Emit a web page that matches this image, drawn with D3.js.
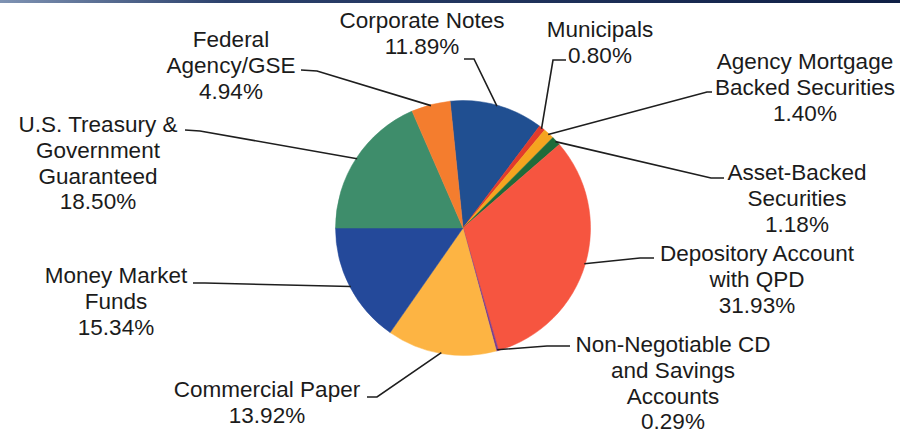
<!DOCTYPE html>
<html>
<head>
<meta charset="utf-8">
<script src="https://cdn.jsdelivr.net/npm/d3@7"></script>
<style>
  html, body { margin: 0; padding: 0; background: #ffffff; }
  svg { display: block; }
  text { font-family: "Liberation Sans", Arial, sans-serif; fill: #1b1b1b; }
</style>
</head>
<body>
<svg id="chart" width="900" height="436"></svg>
<script>
// ---- data ----
const categories = [
  "Corporate Notes",
  "Municipals",
  "Agency Mortgage Backed Securities",
  "Asset-Backed Securities",
  "Depository Account with QPD",
  "Non-Negotiable CD and Savings Accounts",
  "Commercial Paper",
  "Money Market Funds",
  "U.S. Treasury & Government Guaranteed",
  "Federal Agency/GSE"
];
const values = [11.89, 0.80, 1.40, 1.18, 31.93, 0.29, 13.92, 15.34, 18.50, 4.94];
const labelLines = [
  ["Corporate Notes"],
  ["Municipals"],
  ["Agency Mortgage", "Backed Securities"],
  ["Asset-Backed", "Securities"],
  ["Depository Account", "with QPD"],
  ["Non-Negotiable CD", "and Savings", "Accounts"],
  ["Commercial Paper"],
  ["Money Market", "Funds"],
  ["U.S. Treasury &", "Government", "Guaranteed"],
  ["Federal", "Agency/GSE"]
];

// ---- styles / layout ----
const colors = ["#204f91", "#e23b2b", "#f5a41f", "#1f6b3a", "#f65540",
                "#7a3f8f", "#fdb443", "#24499a", "#3e8d6b", "#f47d2e"];
const cx = 463, cy = 228, R = 127.5;
const startAngle = -5.8 * Math.PI / 180;
const fontSize = 22.5, lineH = 25.8;
// label text anchor (centre x, first baseline y) and leader elbow/end points
const labelLayout = [
  { x: 422, y: 28,  elbow: [474, 59],  end: [464, 59] },
  { x: 600, y: 37,  elbow: [553, 60],  end: [566, 60] },
  { x: 805, y: 69,  elbow: [707, 92],  end: [712, 92] },
  { x: 797, y: 180, elbow: [711, 178], end: [724, 178] },
  { x: 757, y: 261, elbow: [640, 258], end: [654, 258] },
  { x: 673, y: 352, elbow: [547, 346], end: [570, 346] },
  { x: 267, y: 397, elbow: [377, 397], end: [367, 397] },
  { x: 116, y: 283, elbow: [205, 283], end: [193, 283] },
  { x: 98,  y: 132, elbow: [200, 131], end: [185, 130] },
  { x: 231, y: 47,  elbow: [317, 71],  end: [301, 70] }
];

const svg = d3.select("#chart");

// top border bar
const defs = svg.append("defs");
const grad = defs.append("linearGradient").attr("id", "topbar");
grad.append("stop").attr("offset", "0%").attr("stop-color", "#7f93b3");
grad.append("stop").attr("offset", "25%").attr("stop-color", "#2c416c");
grad.append("stop").attr("offset", "100%").attr("stop-color", "#0f1f45");
svg.append("rect").attr("x", 0).attr("y", 0).attr("width", 900).attr("height", 3)
  .attr("fill", "url(#topbar)");

const data = categories.map((c, i) => ({ name: c, value: values[i], lines: labelLines[i], i }));

const pie = d3.pie().sort(null).value(d => d.value)
  .startAngle(startAngle).endAngle(startAngle + 2 * Math.PI);
const arcs = pie(data);
const arc = d3.arc().innerRadius(0).outerRadius(R);

const g = svg.append("g").attr("transform", `translate(${cx},${cy})`);
g.selectAll("path.slice").data(arcs).join("path")
  .attr("class", "slice")
  .attr("d", arc)
  .attr("fill", d => colors[d.data.i])
  .attr("stroke", d => colors[d.data.i])
  .attr("stroke-width", 0.5);

// leader lines
const edge = d3.arc().innerRadius(R - 1).outerRadius(R - 1);
svg.selectAll("polyline.leader").data(arcs).join("polyline")
  .attr("class", "leader")
  .attr("points", d => {
    const a = (d.startAngle + d.endAngle) / 2;
    const px = cx + (R - 1) * Math.sin(a), py = cy - (R - 1) * Math.cos(a);
    const L = labelLayout[d.data.i];
    return [[px, py], L.elbow, L.end].map(p => p.join(",")).join(" ");
  })
  .attr("fill", "none")
  .attr("stroke", "#1e1e1e")
  .attr("stroke-width", 1.6);

// labels
const fmt = v => v.toFixed(2) + "%";
const labels = svg.selectAll("text.lbl").data(data).join("text")
  .attr("class", "lbl")
  .attr("text-anchor", "middle")
  .attr("font-size", fontSize)
  .attr("x", d => labelLayout[d.i].x)
  .attr("y", d => labelLayout[d.i].y);
labels.each(function(d) {
  const t = d3.select(this);
  const all = d.lines.concat([fmt(d.value)]);
  all.forEach((s, k) => {
    t.append("tspan").attr("x", labelLayout[d.i].x).attr("dy", k === 0 ? 0 : lineH).text(s);
  });
});
</script>
</body>
</html>
